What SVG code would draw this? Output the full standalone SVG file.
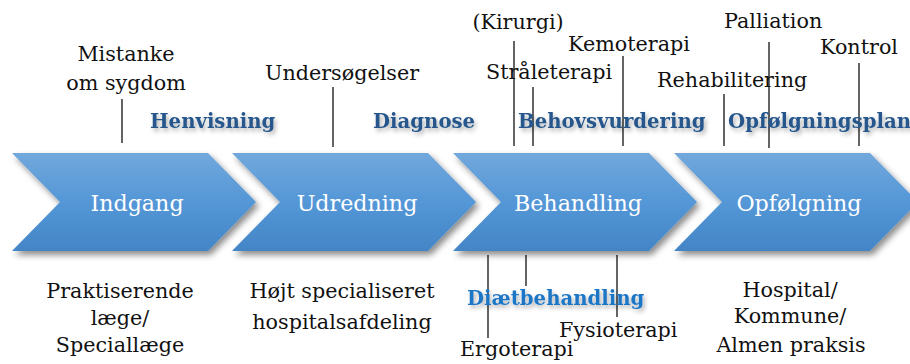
<svg xmlns="http://www.w3.org/2000/svg" width="910" height="364" viewBox="0 0 910 364">
<defs>
<linearGradient id="chev" x1="0" y1="0" x2="0" y2="1">
<stop offset="0" stop-color="#72a8dc"/>
<stop offset="0.5" stop-color="#5497d7"/>
<stop offset="1" stop-color="#4385c6"/>
</linearGradient>
<filter id="sh" x="-10%" y="-10%" width="130%" height="140%">
<feDropShadow dx="3" dy="4" stdDeviation="3" flood-color="#000" flood-opacity="0.45"/>
</filter>
<filter id="tsh" x="-10%" y="-30%" width="130%" height="180%">
<feDropShadow dx="2" dy="3" stdDeviation="2" flood-color="#000" flood-opacity="0.3"/>
</filter>
</defs>
<style>
.chev{fill:url(#chev);filter:url(#sh)}
.ct{font-family:"DejaVu Serif","Liberation Serif",serif;font-size:22.2px;fill:#fff;text-anchor:middle}
.t{font-family:"DejaVu Serif","Liberation Serif",serif;font-size:20.7px;fill:#111}
.m{text-anchor:middle}
.b{font-family:"DejaVu Serif","Liberation Serif",serif;font-size:19.7px;font-weight:bold;fill:#25578b;filter:url(#tsh)}
.b2{fill:#1f76c6}
.ln{stroke:#111;stroke-width:1.3;fill:none}
</style>
<rect width="910" height="364" fill="#fff"/>
<g id="indgang">
<polygon class="chev" points="12,153 208,153 256,202 208,251 12,251 60,202"/>
<text class="ct" x="137" y="211">Indgang</text>
</g>
<g id="udredning">
<polygon class="chev" points="232,153 428,153 476,202 428,251 232,251 280,202"/>
<text class="ct" x="357" y="211">Udredning</text>
</g>
<g id="behandling">
<polygon class="chev" points="453,153 649,153 697,202 649,251 453,251 501,202"/>
<text class="ct" x="578" y="211">Behandling</text>
</g>
<g id="opfolgning">
<polygon class="chev" points="674,153 870,153 918,202 870,251 674,251 722,202"/>
<text class="ct" x="799" y="211">Opfølgning</text>
</g>
<g id="connectors">
<line class="ln" x1="122" y1="99" x2="122" y2="143"/>
<line class="ln" x1="333" y1="87" x2="333" y2="147"/>
<line class="ln" x1="514" y1="41" x2="514" y2="146"/>
<line class="ln" x1="533" y1="87" x2="533" y2="146"/>
<line class="ln" x1="623" y1="56" x2="623" y2="146"/>
<line class="ln" x1="724" y1="94" x2="724" y2="146"/>
<line class="ln" x1="769" y1="42" x2="769" y2="148"/>
<line class="ln" x1="859" y1="63" x2="859" y2="146"/>
<line class="ln" x1="488" y1="255" x2="488" y2="338"/>
<line class="ln" x1="526" y1="255" x2="526" y2="286"/>
<line class="ln" x1="617" y1="255" x2="617" y2="317"/>
</g>
<g id="phases">
<text class="b" x="150" y="128">Henvisning</text>
<text class="b" x="373" y="128">Diagnose</text>
<text class="b" x="518" y="128">Behovsvurdering</text>
<text class="b" x="728" y="128">Opfølgningsplan</text>
<text class="b b2" x="467" y="305">Diætbehandling</text>
</g>
<g id="labels">
<text class="t m" x="126" y="61">Mistanke</text>
<text class="t m" x="126" y="90">om sygdom</text>
<text class="t m" x="342" y="80">Undersøgelser</text>
<text class="t m" x="518" y="29">(Kirurgi)</text>
<text class="t" x="486" y="79">Stråleterapi</text>
<text class="t" x="568" y="51">Kemoterapi</text>
<text class="t" x="657" y="87">Rehabilitering</text>
<text class="t" x="724" y="28">Palliation</text>
<text class="t" x="820" y="54">Kontrol</text>
<text class="t" x="559" y="337">Fysioterapi</text>
<text class="t" x="460" y="356">Ergoterapi</text>
<text class="t m" x="120" y="298">Praktiserende</text>
<text class="t m" x="120" y="325">læge/</text>
<text class="t m" x="120" y="352">Speciallæge</text>
<text class="t m" x="342" y="298">Højt specialiseret</text>
<text class="t m" x="342" y="329">hospitalsafdeling</text>
<text class="t m" x="790" y="297">Hospital/</text>
<text class="t m" x="790" y="323">Kommune/</text>
<text class="t m" x="791" y="352">Almen praksis</text>
</g>
</svg>
